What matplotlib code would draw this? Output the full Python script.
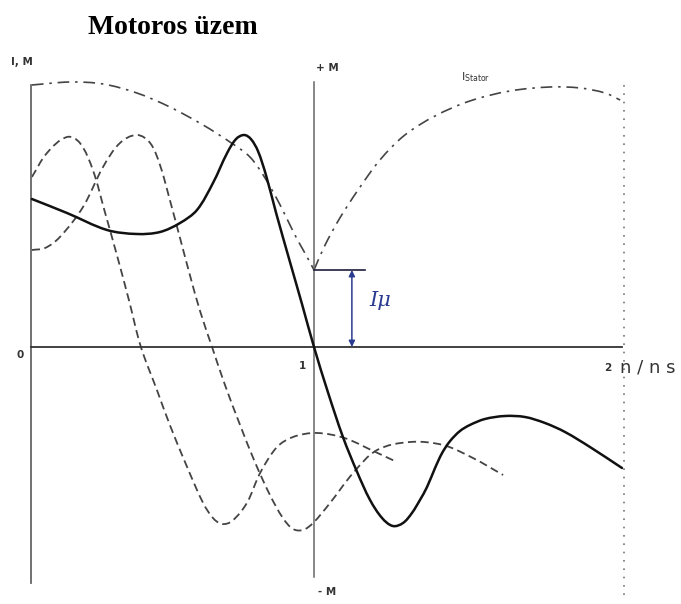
import numpy as np
import matplotlib.pyplot as plt
from matplotlib.path import Path
from matplotlib.patches import PathPatch

# n/ns values and curve heights
m_x = [0.084, 0.198, 0.328, 0.425, 0.500, 0.565, 0.620, 0.672, 0.718, 0.747, 0.773, 0.795,
       0.818, 0.844, 0.877, 0.922, 0.961, 1.000, 1.045, 1.094, 1.140, 1.182, 1.221, 1.256,
       1.289, 1.318, 1.344, 1.367, 1.393, 1.416, 1.442, 1.474, 1.506, 1.555, 1.620, 1.685,
       1.750, 1.815, 1.896, 2.000]
m_y = [1.48, 1.34, 1.17, 1.13, 1.15, 1.24, 1.37, 1.64, 1.94, 2.08, 2.12, 2.08,
       1.96, 1.72, 1.34, 0.85, 0.43, 0.00, -0.45, -0.90, -1.25, -1.53, -1.71, -1.79,
       -1.76, -1.66, -1.53, -1.40, -1.21, -1.06, -0.94, -0.84, -0.78, -0.72, -0.69, -0.70,
       -0.76, -0.85, -1.00, -1.21]

stator_left_x = [0.084, 0.208, 0.315, 0.425, 0.532, 0.640, 0.727, 0.792, 0.841, 0.890, 0.938, 0.974, 1.000]
stator_left_y = [2.62, 2.65, 2.63, 2.54, 2.40, 2.22, 2.05, 1.90, 1.69, 1.42, 1.12, 0.92, 0.77]
stator_right_x = [1.000, 1.036, 1.084, 1.143, 1.214, 1.295, 1.393, 1.506, 1.636, 1.766, 1.864, 1.945, 1.994]
stator_right_y = [0.77, 1.02, 1.29, 1.57, 1.87, 2.12, 2.31, 2.46, 2.56, 2.60, 2.59, 2.54, 2.47]

a_x = [0.084, 0.133, 0.198, 0.240, 0.282, 0.321, 0.360, 0.399, 0.438, 0.490, 0.532, 0.588,
       0.640, 0.672, 0.701, 0.734, 0.782, 0.825, 0.880, 0.932, 0.997, 1.062, 1.117, 1.172, 1.269]
a_y = [1.70, 1.94, 2.10, 2.04, 1.77, 1.35, 0.92, 0.47, 0.00, -0.43, -0.78, -1.20,
       -1.56, -1.71, -1.77, -1.74, -1.56, -1.26, -1.00, -0.90, -0.86, -0.88, -0.93, -1.01, -1.15]

b_x = [0.084, 0.127, 0.175, 0.250, 0.315, 0.370, 0.425, 0.468, 0.500, 0.532, 0.565, 0.597, 0.630,
       0.669, 0.711, 0.760, 0.808, 0.857, 0.899, 0.932, 0.964, 0.997, 1.052, 1.127, 1.205, 1.312,
       1.419, 1.516, 1.614]
b_y = [0.97, 0.99, 1.10, 1.40, 1.80, 2.04, 2.12, 2.04, 1.82, 1.47, 1.09, 0.72, 0.36,
       0.00, -0.38, -0.78, -1.15, -1.48, -1.71, -1.82, -1.83, -1.76, -1.56, -1.26, -1.03, -0.95,
       -0.98, -1.11, -1.28]

i_mu = 0.77
x_left = 0.081


def smooth_path(xs, ys, sx=3.08):
    # smooth bezier through the read points (x scaled so both axes have similar units)
    p = np.column_stack([np.asarray(xs) * sx, ys])
    n = len(p)
    tang = np.zeros_like(p)
    for i in range(n):
        d = p[min(i + 1, n - 1)] - p[max(i - 1, 0)]
        tang[i] = d / np.hypot(*d)
    verts = [p[0]]
    codes = [Path.MOVETO]
    for i in range(n - 1):
        L = np.hypot(*(p[i + 1] - p[i])) / 3
        verts += [p[i] + tang[i] * L, p[i + 1] - tang[i + 1] * L, p[i + 1]]
        codes += [Path.CURVE4] * 3
    verts = np.array(verts)
    verts[:, 0] /= sx
    return Path(verts, codes)


fig = plt.figure(figsize=(6.81, 6.04), dpi=100)
ax = fig.add_axes([0, 0, 1, 1])
ax.set_xlim(-0.0195, 2.1916)
ax.set_ylim(-2.57, 3.47)
ax.axis('off')

# axes of the sketch
ax.plot([x_left, x_left], [2.62, -2.36], color='#666666', lw=1.3)
ax.plot([1.0, 1.0], [2.65, -2.30], color='#666666', lw=1.1)
ax.plot([x_left, 2.0], [0, 0], color='#333333', lw=1.3)
ax.plot([2.006, 2.006], [2.62, -2.53], color='#777777', lw=1.2, linestyle=(0, (1, 4)))

dash = dict(fill=False, edgecolor='#444444', lw=1.3, linestyle=(0, (4.5, 2.5)))
ax.add_patch(PathPatch(smooth_path(a_x, a_y), **dash))
ax.add_patch(PathPatch(smooth_path(b_x, b_y), **dash))

dashdot = dict(fill=False, edgecolor='#444444', lw=1.2, linestyle=(0, (7, 3.5, 1.5, 3.5)))
ax.add_patch(PathPatch(smooth_path(stator_left_x, stator_left_y), **dashdot))
ax.add_patch(PathPatch(smooth_path(stator_right_x, stator_right_y), **dashdot))

ax.add_patch(PathPatch(smooth_path(m_x, m_y), fill=False, edgecolor='#111111', lw=1.8,
                       capstyle='round', joinstyle='round', zorder=5))

# magnetising current marker
ax.plot([1.0, 1.166], [i_mu, i_mu], color='#1c1c3c', lw=1.2)
ax.annotate('', xy=(1.123, 0.0), xytext=(1.123, i_mu),
            arrowprops=dict(arrowstyle='<|-|>', color='#2b3b8f', lw=1.1,
                            shrinkA=0, shrinkB=0, mutation_scale=9))
ax.text(1.214, 0.47, 'Iμ', color='#2b3b8f', fontsize=15, style='italic',
        family='DejaVu Serif', ha='center', va='center')

ax.text(0.542, 3.20, 'Motoros üzem', fontsize=20, fontweight='bold',
        family='Liberation Serif', ha='center', va='center')
lab = dict(fontsize=7.5, color='#333333', ha='center', va='center', fontweight='bold')
ax.text(0.052, 2.85, 'I, M', **lab)
ax.text(1.042, 2.79, '+ M', **lab)
ax.text(1.042, -2.45, '- M', **lab)
ax.text(0.045, -0.08, '0', **lab)
ax.text(0.964, -0.19, '1', **lab)
ax.text(1.955, -0.21, '2', **lab)
ax.text(1.525, 2.70, r'$\mathregular{I_{Stator}}$', fontsize=8, color='#333333',
        ha='center', va='center')
ax.text(2.084, -0.21, 'n / n s', fontsize=13, color='#333333', ha='center', va='center')

fig.savefig('out.png', dpi=100)
